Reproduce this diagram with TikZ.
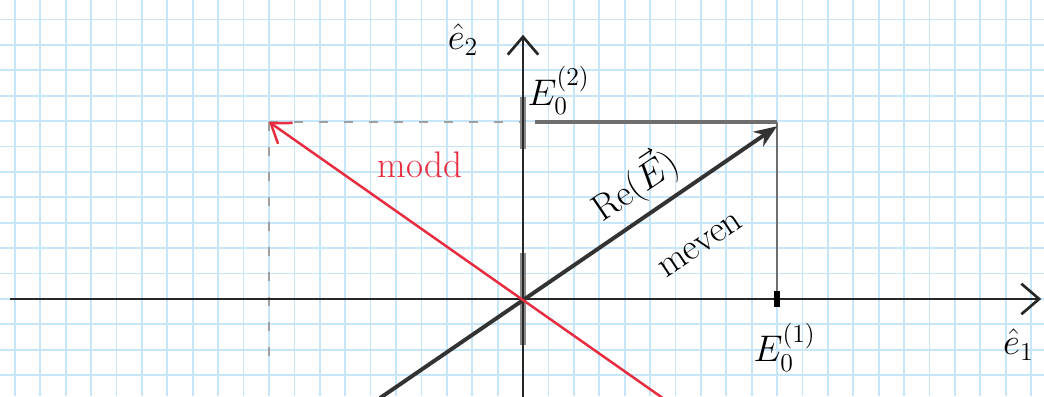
\documentclass[tikz,border=0pt]{standalone}
\usepackage{amsmath}
\usetikzlibrary{arrows.meta}
\definecolor{grilleBleu}{RGB}{200, 230, 250}
\definecolor{crayonGris}{RGB}{110, 110, 110}
\definecolor{crayonClair}{RGB}{160, 160, 160}
\definecolor{rougeModd}{RGB}{232, 45, 65}

\begin{document}
\begin{tikzpicture}[x=0.5cm, y=0.5cm,
  grille/.style={draw=grilleBleu, line width=1pt},
  axe/.style={draw=black!85, line width=1.6pt,
    -{Straight Barb[length=3.5mm, width=6mm, line width=1.5pt]}},
  vecRe/.style={draw=black!80, line width=2.2pt,
    -{Stealth[length=4.5mm, width=3.5mm]}},
  vecRouge/.style={draw=rougeModd, line width=1.4pt,
    -{Straight Barb[length=3.5mm, width=5mm, line width=1.4pt]}},
  proj/.style={draw=crayonGris, line width=1.3pt},
  pointille/.style={draw=crayonClair, line width=1.4pt, dash pattern=on 5pt off 9pt},
  marque/.style={draw=crayonGris, line width=3pt, opacity=0.8},
  lbl/.style={font=\huge, inner sep=1pt},
]
\useasboundingbox (-20.59,-3.82) rectangle (20.51,11.77);
% papier quadrille
\foreach \i in {-20,...,20}
  \draw[grille] (\i,-3.82) -- (\i,11.77);
\foreach \j in {-3,...,11}
  \draw[grille] (-20.59,\j) -- (20.51,\j);
% points
\coordinate (O)  at (0,0);
\coordinate (xg) at (-20.2,0);
\coordinate (xd) at (20.4,0);
\coordinate (yb) at (0,-3.9);
\coordinate (yh) at (0,10.4);
\coordinate (P)  at (10,6.8);
\coordinate (Pb) at (-5.63,-3.9);
\coordinate (Q)  at (-10,6.97);
\coordinate (Qb) at (5.5,-3.9);
\coordinate (A)  at (10,6.97);
\coordinate (B)  at (10,0);
\coordinate (C)  at (0.47,6.97);
\coordinate (Cg) at (-0.1,6.97);
\coordinate (D)  at (-10,-2.6);
% projections
\draw[pointille] (Q) -- (Cg);
\draw[pointille] (Q) -- (D);
\draw[proj, line width=2.4pt] (C) -- (A);
\draw[proj] (A) -- (B);
\draw[marque] (0,5.9) -- (0,7.95);
\draw[marque] (0,-1.8) -- (0,1.8);
% axes
\draw[axe] (xg) -- (xd);
\draw[axe] (yb) -- (yh);
\draw[black, line width=3pt] (10,-0.3) -- (10,0.3);
% vecteurs
\draw[vecRe] (Pb) -- (P);
\draw[vecRouge] (Qb) -- (Q);
% textes
\node[lbl] (e2) at (-2.36,10.2) {$\hat{e}_2$};
\node[lbl] (E2) at (1.4,8.2) {$E_0^{(2)}$};
\node[lbl] (E1) at (10.3,-1.9) {$E_0^{(1)}$};
\node[lbl] (e1) at (19.5,-1.8) {$\hat{e}_1$};
\node[lbl, text=rougeModd] (modd) at (-4.06,5.28) {modd};
\node[lbl, rotate=34] (reE) at (4.4,4.5) {Re$(\vec{E})$};
\node[lbl, rotate=34] (meven) at (7.0,2.1) {meven};
\end{tikzpicture}
\end{document}
